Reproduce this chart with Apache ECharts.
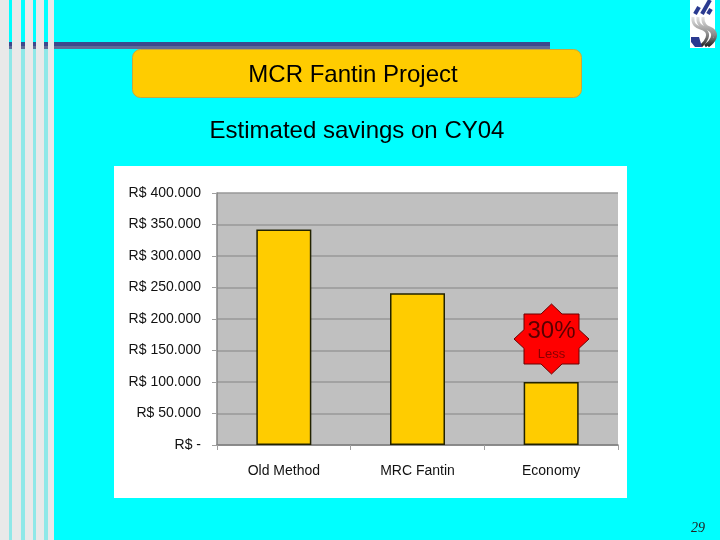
<!DOCTYPE html>
<html>
<head>
<meta charset="utf-8">
<style>html,body{margin:0;padding:0;background:#00ffff}#chart{width:720px;height:540px}</style>
<script src="https://cdn.jsdelivr.net/npm/echarts@6/dist/echarts.min.js"></script>
</head>
<body>
<div id="chart"></div>
<script>
// values
const categories = ['Old Method', 'MRC Fantin', 'Economy'];
const savings = [342000, 241000, 100000];
const tickLabels = ['R$ -', 'R$ 50.000', 'R$ 100.000', 'R$ 150.000', 'R$ 200.000', 'R$ 250.000', 'R$ 300.000', 'R$ 350.000', 'R$ 400.000'];
const tickStep = 50000;

const chart = echarts.init(document.getElementById('chart'));

const sans = '"Liberation Sans", Arial, sans-serif';

// slide decoration
const stripes = [[0, 9], [12, 9], [25, 8], [36, 8], [48, 6]];
const gaps = [[9, 3], [21, 4], [33, 3], [44, 4]];
const deco = [];
gaps.forEach(g => deco.push({ type: 'rect', z: -9, shape: { x: g[0], y: 49, width: g[1], height: 491 }, style: { fill: '#8fe8e8' } }));
deco.push({ type: 'rect', z: -8, shape: { x: 9, y: 42, width: 541, height: 4 }, style: { fill: '#3c4a8c' } });
deco.push({ type: 'rect', z: -8, shape: { x: 9, y: 46, width: 541, height: 3 }, style: { fill: '#5f6b97' } });
stripes.forEach(s => deco.push({ type: 'rect', z: -7, shape: { x: s[0], y: 0, width: s[1], height: 540 }, style: { fill: '#e9e9e9' } }));

// title box
deco.push({ type: 'rect', z: -6, shape: { x: 132.5, y: 49.5, width: 449, height: 48, r: 8 }, style: { fill: '#ffcc00', stroke: '#c8a83c', lineWidth: 1 } });
// white chart panel
deco.push({ type: 'rect', z: -6, shape: { x: 114, y: 166, width: 513, height: 332 }, style: { fill: '#ffffff' } });

// logo top right
deco.push({ type: 'rect', z: -6, shape: { x: 690, y: 0, width: 25, height: 48 }, style: { fill: '#ffffff' } });
[[695, 14, 699, 7], [702, 14, 710, 0], [708, 14, 711, 9]].forEach(p => deco.push({
    type: 'line', z: -5, shape: { x1: p[0], y1: p[1], x2: p[2], y2: p[3] }, style: { stroke: '#2a3a90', lineWidth: 4 }
}));
[[693, 697, 706, 701], [698, 702, 711, 705], [703, 706, 714, 708]].forEach(p => deco.push({
    type: 'polyline', z: -5,
    shape: { points: [[p[0], 17], [p[0] + 2, 25], [p[2], 31], [p[2] + 1, 38], [p[3], 46]], smooth: 0.5 },
    style: {
        fill: 'none', lineWidth: 3,
        stroke: new echarts.graphic.LinearGradient(0, 0, 0, 1, [{ offset: 0, color: '#f0f0f0' }, { offset: 0.6, color: '#888' }, { offset: 1, color: '#111' }])
    }
}));
deco.push({ type: 'polygon', z: -5, shape: { points: [[691, 37], [699, 37], [702, 47], [695, 47], [691, 42]] }, style: { fill: '#2a3a90' } });

// 30% badge
deco.push({
    type: 'polygon', z: 50,
    shape: { points: [[551.5, 304], [562, 314], [579, 314], [579, 329.7], [589, 339], [579, 348.3], [579, 364], [562, 364], [551.5, 374], [541, 364], [524, 364], [524, 348.3], [514, 339], [524, 329.7], [524, 314], [541, 314]] },
    style: { fill: '#ff0000', stroke: '#6b0000', lineWidth: 1 }
});
deco.push({ type: 'text', z: 51, x: 551.5, y: 331, style: { text: '30%', fill: '#5a0000', font: '24px ' + sans, align: 'center', verticalAlign: 'middle' } });
deco.push({ type: 'text', z: 51, x: 551.5, y: 354, style: { text: 'Less', fill: '#8a0000', font: '13px ' + sans, align: 'center', verticalAlign: 'middle' } });
// page number
deco.push({ type: 'text', z: 1, x: 698, y: 528, style: { text: '29', fill: '#222222', font: 'italic 14px "Liberation Serif", serif', align: 'center', verticalAlign: 'middle' } });

option = {
    animation: false,
    backgroundColor: '#00ffff',
    title: [
        { text: 'MCR Fantin Project', left: 348, top: 58, textAlign: 'center', textStyle: { fontFamily: sans, fontSize: 24, fontWeight: 'normal', color: '#000' } },
        { text: 'Estimated savings on CY04', left: 352, top: 114, textAlign: 'center', textStyle: { fontFamily: sans, fontSize: 24, fontWeight: 'normal', color: '#000' } }
    ],
    graphic: { elements: deco },
    grid: {
        left: 217, right: 102, top: 193, bottom: 95,
        show: true, backgroundColor: '#c0c0c0', borderWidth: 0
    },
    xAxis: {
        type: 'category',
        data: categories,
        axisLine: { lineStyle: { color: '#808080', width: 1.5 } },
        axisTick: { show: true, length: 5, lineStyle: { color: '#a0a0a0' } },
        axisLabel: { margin: 19, fontFamily: sans, fontSize: 14, color: '#111' }
    },
    yAxis: {
        type: 'value',
        min: 0,
        max: 400000,
        interval: tickStep,
        axisLine: { show: true, lineStyle: { color: '#808080', width: 1.5 } },
        axisTick: { show: true, length: 5, lineStyle: { color: '#a0a0a0' } },
        splitLine: { show: true, lineStyle: { color: '#999999', width: 1.5 } },
        axisLabel: {
            margin: 16, fontFamily: sans, fontSize: 14, color: '#111',
            formatter: function (value) { return tickLabels[value / tickStep]; }
        }
    },
    series: [{
        type: 'bar',
        data: savings,
        barWidth: 55,
        itemStyle: { color: '#ffcc00', borderColor: '#222200', borderWidth: 1.5 }
    }]
};
chart.setOption(option);
</script>
</body>
</html>
